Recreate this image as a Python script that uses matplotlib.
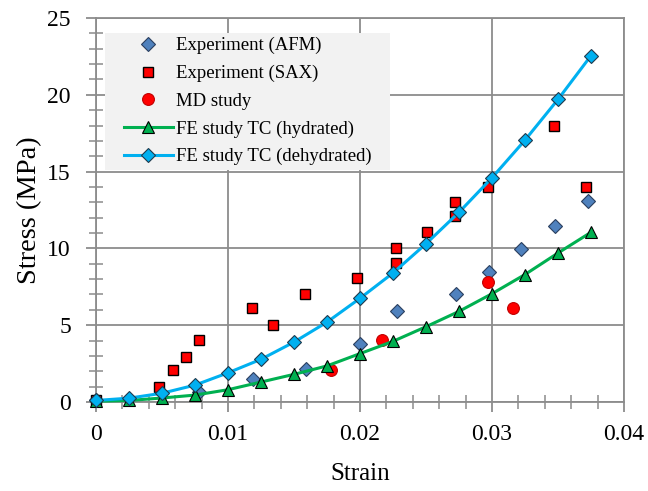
import matplotlib
matplotlib.use("Agg")
import matplotlib.pyplot as plt
from matplotlib.ticker import MultipleLocator, FuncFormatter
from matplotlib.patches import Rectangle

plt.rcParams['font.family'] = ['Liberation Serif', 'DejaVu Serif']

# ---- data ----
afm_strain = [0.0, 0.0078, 0.0119, 0.0159, 0.0200, 0.0228, 0.0273, 0.0298, 0.0322, 0.0348, 0.0373]
afm_stress = [0.1, 0.65, 1.5, 2.15, 3.8, 5.9, 7.05, 8.45, 9.95, 11.45, 13.1]

sax_strain = [0.0, 0.0048, 0.0058, 0.0068, 0.0078, 0.0118, 0.0134, 0.0158, 0.0198,
              0.0227, 0.0227, 0.0251, 0.0272, 0.0272, 0.0297, 0.0347, 0.0371]
sax_stress = [0.1, 1.0, 2.1, 2.9, 4.05, 6.1, 5.0, 7.05, 8.05,
              10.0, 9.05, 11.1, 13.0, 12.1, 14.0, 18.0, 14.0]

md_strain = [0.0178, 0.0217, 0.0297, 0.0316]
md_stress = [2.1, 4.05, 7.8, 6.1]

fe_strain = [0.0, 0.0025, 0.005, 0.0075, 0.01, 0.0125, 0.015, 0.0175,
             0.02, 0.0225, 0.025, 0.0275, 0.03, 0.0325, 0.035, 0.0375]
fe_hyd = [0.05, 0.1, 0.26, 0.45, 0.8, 1.3, 1.8, 2.35,
          3.15, 3.95, 4.9, 5.9, 7.05, 8.3, 9.7, 11.05]
fe_dehyd = [0.1, 0.25, 0.57, 1.1, 1.9, 2.78, 3.9, 5.2,
            6.75, 8.4, 10.3, 12.35, 14.6, 17.05, 19.7, 22.55]

labels = ["Experiment (AFM)", "Experiment (SAX)", "MD study",
          "FE study TC (hydrated)", "FE study TC (dehydrated)"]

# ---- figure ----
W, H = 648, 491
fig = plt.figure(figsize=(W / 100, H / 100), dpi=100)
ax = fig.add_axes([96 / W, 1 - 402 / H, (624 - 96) / W, (402 - 18) / H])

gray = '#8c8c8c'
ax.set_xlim(0, 0.04)
ax.set_ylim(0, 25)
ax.xaxis.set_major_locator(MultipleLocator(0.01))
ax.xaxis.set_minor_locator(MultipleLocator(0.002))
ax.yaxis.set_major_locator(MultipleLocator(5))
ax.yaxis.set_minor_locator(MultipleLocator(1))
ax.xaxis.set_major_formatter(FuncFormatter(lambda v, p: '0' if abs(v) < 1e-12 else f'{v:g}'))
ax.grid(True, which='major', color=gray, linewidth=1.3, zorder=0)
ax.set_axisbelow(True)
for s in ax.spines.values():
    s.set_color(gray)
    s.set_linewidth(1.3)
ax.tick_params(which='major', direction='out', length=7, width=1.3, color=gray,
               labelsize=17)
ax.tick_params(axis='x', which='major', pad=9)
ax.tick_params(axis='y', which='major', pad=11)
ax.tick_params(which='minor', direction='inout', length=10, width=1.1, color=gray)

ax.plot(afm_strain, afm_stress, linestyle='none', marker='D', markersize=7.5,
        markerfacecolor='#4F81BD', markeredgecolor='#2a3f5f', markeredgewidth=0.8,
        label=labels[0], zorder=3, clip_on=False)
ax.plot(sax_strain, sax_stress, linestyle='none', marker='s', markersize=7.5,
        markerfacecolor='#FF0000', markeredgecolor='#000000', markeredgewidth=1.0,
        label=labels[1], zorder=3, clip_on=False)
ax.plot(md_strain, md_stress, linestyle='none', marker='o', markersize=8.5,
        markerfacecolor='#FF0000', markeredgecolor='#C00000', markeredgewidth=0.8,
        label=labels[2], zorder=3, clip_on=False)
ax.plot(fe_strain, fe_hyd, color='#00B050', linewidth=2.2, marker='^', markersize=8.5,
        markerfacecolor='#00B050', markeredgecolor='#000000', markeredgewidth=0.8,
        label=labels[3], zorder=4, clip_on=False)
ax.plot(fe_strain, fe_dehyd, color='#00B0F0', linewidth=2.2, marker='D', markersize=7.5,
        markerfacecolor='#00B0F0', markeredgecolor='#1f3a4d', markeredgewidth=0.8,
        label=labels[4], zorder=5, clip_on=False)

ax.set_xlabel('Strain', fontsize=18, labelpad=13)
ax.set_ylabel('Stress (MPa)', fontsize=20.5, labelpad=4)

# legend background box
rect = Rectangle((105 / W, 1 - 170 / H), (390 - 105) / W, (170 - 33) / H,
                 transform=fig.transFigure, facecolor='#F2F2F2', edgecolor='none',
                 zorder=2)
ax.add_artist(rect)
rect.set_transform(fig.transFigure)

leg = ax.legend(loc='upper left', bbox_to_anchor=(124 / W, 1 - 37 / H),
                bbox_transform=fig.transFigure, frameon=False, fontsize=13.5,
                handlelength=2.6, handletextpad=0.2, labelspacing=0.56,
                borderpad=0.0, borderaxespad=0.0, numpoints=1)
leg.set_zorder(6)

fig.savefig('out.png', dpi=100)
